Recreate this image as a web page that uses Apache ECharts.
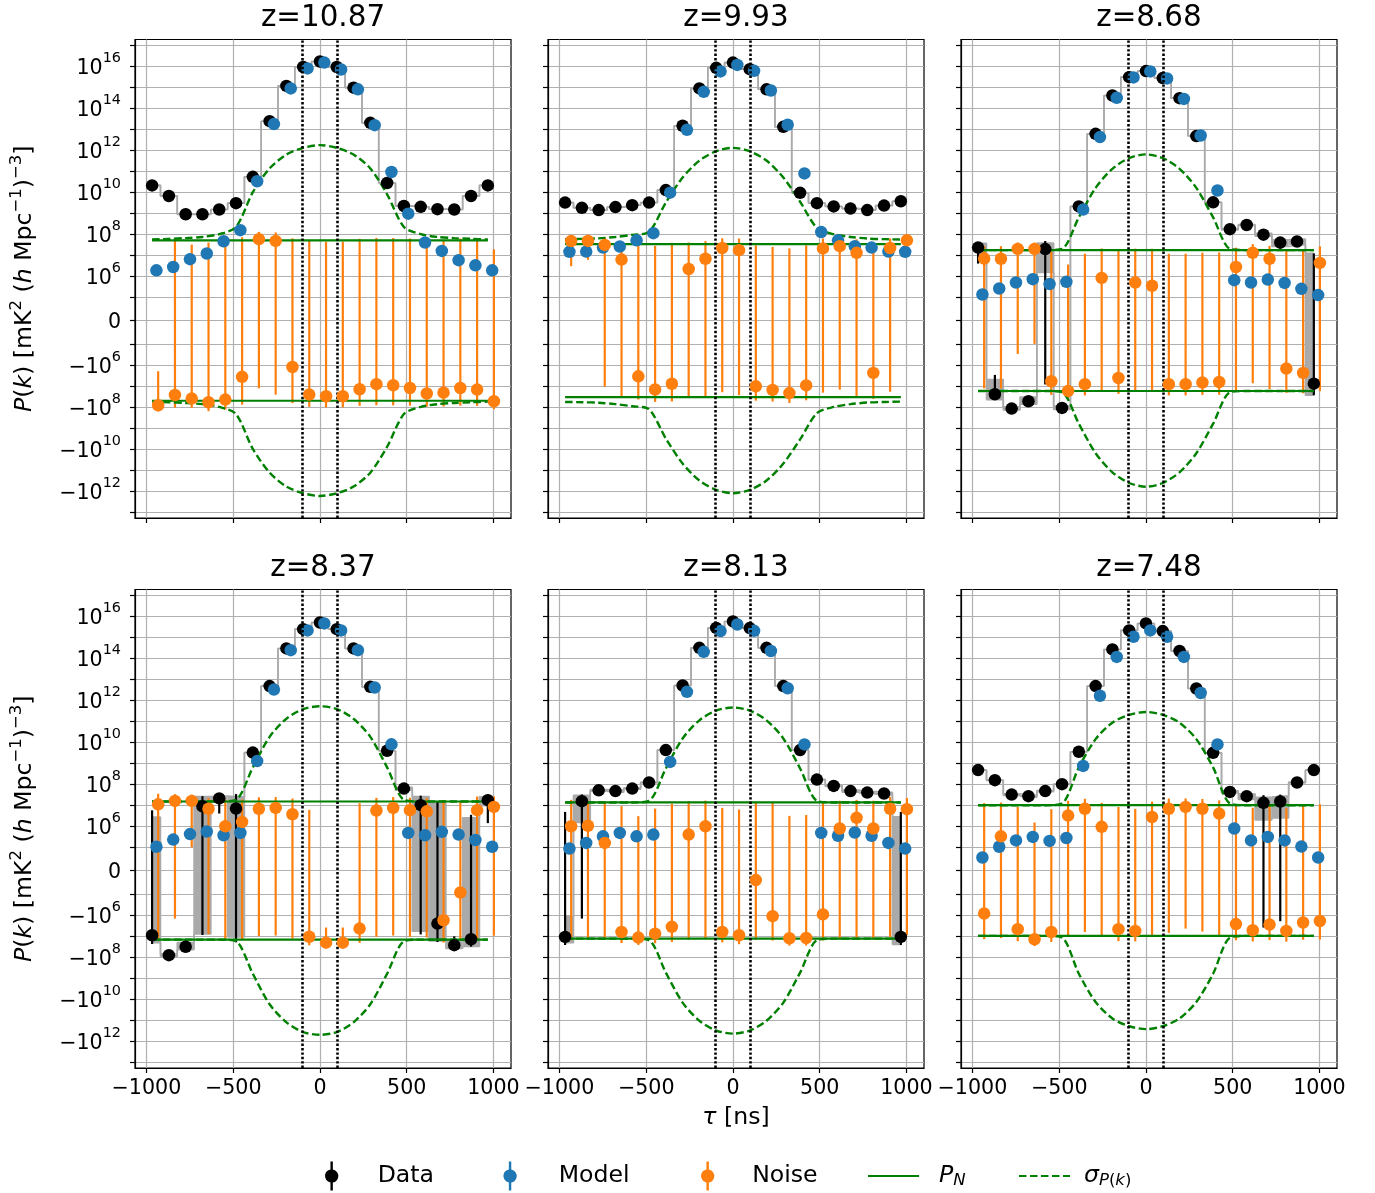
<!DOCTYPE html>
<html><head><meta charset="utf-8">
<script src="https://cdn.jsdelivr.net/npm/echarts@6/dist/echarts.min.js"></script>
<style>html,body{margin:0;padding:0;background:#fff}#c{width:1375px;height:1193px}</style>
</head><body><div id="c"></div>
<script>
// ---------- data ----------
const tau = [-967.5, -870.75, -774, -677.25, -580.5, -483.75, -387, -290.25, -193.5, -96.75, 0,
             96.75, 193.5, 290.25, 387, 483.75, 580.5, 677.25, 774, 870.75, 967.5];
const zLabels = ['z=10.87', 'z=9.93', 'z=8.68', 'z=8.37', 'z=8.13', 'z=7.48'];
const horizonLines = [-100, 100];
const pN = [5.1e7, 3.4e7, 1.75e7, 1.5e7, 1.35e7, 1.0e7];
const xTickVals = [-1000, -500, 0, 500, 1000];
const yLabelExpPos = [6, 8, 10, 12, 14, 16];
const yLabelExpNeg = [6, 8, 10, 12];

// z = 10.87
const data1087 = [2.1e10, 6.6e9, 8.9e8, 8.9e8, 1.5e9, 3.0e9, 5.4e10, 2.4e13, 1.15e15, 9.1e15, 1.66e16, 9.1e15, 9.5e14, 2.0e13, 2.75e10, 2.2e9, 2.0e9, 1.55e9, 1.5e9, 6.6e9, 2.1e10];
const model1087 = [1.9e6, 2.75e6, 6.5e6, 1.2e7, 4.6e7, 1.55e8, 3.3e10, 1.74e13, 8.7e14, 7.8e15, 1.48e16, 6.9e15, 7.9e14, 1.55e13, 9.1e10, 9.5e8, 4.0e7, 1.6e7, 5.8e6, 3.3e6, 1.9e6];
const noise1087 = [-8.3e7, -2.7e7, -4.0e7, -6.0e7, -4.5e7, -3.7e6, 5.8e7, 4.8e7, -1.26e6, -2.6e7, -3.1e7, -3.1e7, -1.45e7, -8.3e6, -9.3e6, -1.26e7, -2.3e7, -2.1e7, -1.26e7, -1.5e7, -5.4e7];
const noiseErr1087 = [8.1e7, 8.3e7, 7.2e7, 1.0e8, 9.0e7, 7.5e7, 7.1e7, 7.4e7, 6.5e7, 7.4e7, 7.5e7, 7.5e7, 7.5e7, 7.5e7, 7.5e7, 7.5e7, 7.5e7, 7.5e7, 7.5e7, 7.5e7, 7.3e7];
const dataErr1087 = [2e7, 2e7, 2e7, 2e7, 2e7, 2e7, 2e7, 2e7, 2e7, 2e7, 2e7, 2e7, 2e7, 2e7, 2e7, 2e7, 2e7, 2e7, 2e7, 2e7, 2e7];
const bandErr1087 = [1e7, 1e7, 1e7, 1e7, 1e7, 1e7, 1e7, 1e7, 1e7, 1e7, 1e7, 1e7, 1e7, 1e7, 1e7, 1e7, 1e7, 1e7, 1e7, 1e7, 1e7];
const sigma1087 = [5.6e7, 6.0e7, 6.5e7, 7.4e7, 1.0e8, 2.2e8, 1.0e10, 1.35e11, 6.2e11, 1.29e12, 1.74e12, 1.29e12, 6.2e11, 1.35e11, 7.9e9, 2.2e8, 1.0e8, 7.4e7, 6.5e7, 6.0e7, 5.6e7];

// z = 9.93
const data993 = [3.2e9, 1.8e9, 1.4e9, 1.95e9, 2.4e9, 3.2e9, 1.26e10, 1.45e13, 8.7e14, 8.3e15, 1.48e16, 7.2e15, 7.9e14, 1.29e13, 9.3e9, 3.0e9, 2.1e9, 1.66e9, 1.4e9, 2.3e9, 3.7e9];
const model993 = [1.45e7, 1.48e7, 2.3e7, 2.6e7, 5.1e7, 1.12e8, 9.5e9, 9.3e12, 6.0e14, 5.6e15, 1.15e16, 6.0e15, 6.9e14, 1.62e13, 7.8e10, 1.26e8, 5.1e7, 2.7e7, 2.3e7, 1.48e7, 1.45e7];
const noise993 = [4.7e7, 4.8e7, 3.1e7, 6.2e6, -3.5e6, -1.48e7, -7.9e6, 2.2e6, 6.8e6, 2.2e7, 1.74e7, -1.05e7, -1.55e7, -2.2e7, -9.5e6, 2.1e7, 2.7e7, 1.3e7, -2.4e6, 2.2e7, 5.1e7];
const noiseErr993 = [4.4e7, 4.2e7, 4.2e7, 3.7e7, 4.1e7, 4.3e7, 4.7e7, 3.8e7, 4.0e7, 4.2e7, 4.5e7, 4.0e7, 4.0e7, 4.3e7, 3.9e7, 4.2e7, 4.2e7, 4.4e7, 3.9e7, 4.1e7, 4.2e7];
const dataErr993 = [2e7, 2e7, 2e7, 2e7, 2e7, 2e7, 2e7, 2e7, 2e7, 2e7, 2e7, 2e7, 2e7, 2e7, 2e7, 2e7, 2e7, 2e7, 2e7, 2e7, 2e7];
const bandErr993 = [1e7, 1e7, 1e7, 1e7, 1e7, 1e7, 1e7, 1e7, 1e7, 1e7, 1e7, 1e7, 1e7, 1e7, 1e7, 1e7, 1e7, 1e7, 1e7, 1e7, 1e7];
const sigma993 = [5.8e7, 6.0e7, 6.3e7, 7.4e7, 9.3e7, 1.29e8, 3.2e9, 5.0e10, 3.2e11, 8.9e11, 1.29e12, 8.9e11, 3.2e11, 5.0e10, 3.5e9, 2.0e8, 1.0e8, 7.4e7, 6.2e7, 5.8e7, 5.6e7];

// z = 8.68
const data868 = [2.3e7, -2.5e7, -1.2e8, -5.4e7, 1.95e7, -1.12e8, 2.1e9, 6.0e12, 4.0e14, 3.0e15, 5.8e15, 2.7e15, 3.0e14, 4.7e12, 3.3e9, 1.74e8, 2.75e8, 9.5e7, 4.0e7, 4.5e7, -7.8e6];
const model868 = [1.35e5, 2.6e5, 5.0e5, 7.2e5, 4.2e5, 5.4e5, 1.48e9, 4.2e12, 3.1e14, 2.9e15, 5.6e15, 2.6e15, 2.75e14, 5.0e12, 1.2e10, 6.5e5, 5.0e5, 6.9e5, 4.8e5, 2.5e5, 1.26e5];
const noise868 = [6.9e6, 6.8e6, 2.0e7, 2.0e7, -6.0e6, -1.74e7, -8.3e6, 8.3e5, -4.2e6, 5.0e5, 3.5e5, -8.3e6, -8.3e6, -6.9e6, -6.5e6, 2.75e6, 1.3e7, 6.8e6, -1.5e6, -2.4e6, 4.3e6];
const noiseErr868 = [2.0e7, 2.0e7, 2.03e7, 2.01e7, 2.1e7, 2.1e7, 2.0e7, 2.0e7, 2.0e7, 2.0e7, 2.0e7, 2.0e7, 2.0e7, 2.0e7, 2.0e7, 2.0e7, 2.05e7, 2.1e7, 2.0e7, 2.0e7, 2.2e7];
const dataErr868 = [1.9e7, 2.2e7, 2e7, 2e7, 2.8e7, 2e7, 2e7, 2e7, 2e7, 2e7, 2e7, 2e7, 2e7, 2e7, 2e7, 2e7, 2e7, 2e7, 2e7, 2e7, 2e7];
const bandErr868 = [1.4e7, 2.0e7, 2.0e7, 2.0e7, 1.8e7, 2.0e7, 1e7, 1e7, 1e7, 1e7, 1e7, 1e7, 1e7, 1e7, 1e7, 1.4e7, 1.4e7, 1.4e7, 1.4e7, 1.4e7, 2.0e7];
const sigma868 = [1.75e7, 1.75e7, 1.75e7, 1.75e7, 1.75e7, 2.0e7, 6.3e8, 1.6e10, 1.3e11, 4.2e11, 6.3e11, 4.2e11, 1.3e11, 1.6e10, 6.3e8, 2.0e7, 1.75e7, 1.75e7, 1.75e7, 1.75e7, 1.75e7];

// z = 8.37
const data837 = [-9.3e6, -8.3e7, -3.3e7, 8.9e6, 2.1e7, 6.9e6, 3.2e9, 4.7e12, 2.9e14, 2.4e15, 5.0e15, 2.4e15, 2.9e14, 4.3e12, 3.9e9, 6.2e7, 1.0e7, -2.6e6, -2.75e7, -1.45e7, 1.74e7];
const model837 = [1.05e5, 2.3e5, 4.2e5, 5.6e5, 3.7e5, 4.8e5, 1.26e9, 3.2e12, 2.4e14, 2.1e15, 4.5e15, 2.1e15, 2.4e14, 4.0e12, 7.9e9, 4.8e5, 3.7e5, 5.4e5, 4.0e5, 2.2e5, 1.05e5];
const noise837 = [1.1e7, 1.6e7, 1.6e7, 6.8e6, 1.0e6, 1.6e6, 6.8e6, 7.4e6, 3.7e6, -1.1e7, -2.1e7, -2.1e7, -4.5e6, 5.6e6, 7.4e6, 5.8e6, 5.1e6, -1.8e6, -9.4e4, 5.8e6, 8.3e6];
const noiseErr837 = [2.4e7, 1.75e7, 1.59e7, 1.5e7, 1.7e7, 1.7e7, 1.7e7, 1.7e7, 1.7e7, 1.7e7, 1.7e7, 1.7e7, 1.7e7, 1.67e7, 1.7e7, 1.7e7, 1.7e7, 1.9e7, 1.5e7, 2.0e7, 1.8e7];
const dataErr837 = [1.5e7, 1.7e7, 1.7e7, 1.8e7, 1.7e7, 2.7e7, 1.7e7, 1.7e7, 1.7e7, 1.7e7, 1.7e7, 1.7e7, 1.7e7, 1.7e7, 1.7e7, 1.7e7, 1.85e7, 1.7e7, 1.7e7, 1.8e7, 1.6e7];
const bandErr837 = [1.2e7, 1.2e7, 1.2e7, 1.7e7, 6e6, 1.8e7, 5e6, 5e6, 5e6, 5e6, 5e6, 5e6, 5e6, 5e6, 5e6, 1.0e7, 1.6e7, 1.5e7, 1.2e7, 1.7e7, 8e6];
const sigma837 = [1.5e7, 1.5e7, 1.5e7, 1.5e7, 1.5e7, 1.8e7, 6.3e8, 1.8e10, 1.3e11, 3.8e11, 5.1e11, 3.8e11, 1.3e11, 1.8e10, 6.3e8, 1.8e7, 1.5e7, 1.5e7, 1.5e7, 1.5e7, 1.5e7];

// z = 8.13
const data813 = [-1.12e7, 1.55e7, 5.1e7, 4.7e7, 6.2e7, 1.2e8, 4.2e9, 5.0e12, 3.1e14, 2.75e15, 5.6e15, 2.7e15, 3.1e14, 4.7e12, 4.2e9, 1.66e8, 8.3e7, 4.7e7, 4.0e7, 3.6e7, -1.12e7];
const model813 = [9.4e4, 1.6e5, 3.3e5, 4.8e5, 3.3e5, 4.0e5, 1.15e9, 2.5e12, 2.0e14, 1.95e15, 4.0e15, 2.0e15, 2.2e14, 3.7e12, 7.8e9, 4.8e5, 3.5e5, 5.0e5, 3.5e5, 1.6e5, 9.4e4];
const noise813 = [1.0e6, 1.05e6, 1.6e5, -6.5e6, -1.2e7, -7.8e6, -3.7e6, 4.0e5, 1.0e6, -6.5e6, -9.3e6, -4.1e4, -1.15e6, -1.29e7, -1.26e7, -9.5e5, 7.8e5, 2.5e6, 7.8e5, 6.8e6, 6.5e6];
const noiseErr813 = [1.7e7, 1.55e7, 1.55e7, 1.55e7, 1.5e7, 1.47e7, 1.55e7, 1.55e7, 1.55e7, 1.4e7, 1.55e7, 1.5e7, 1.55e7, 1.6e7, 1.6e7, 1.55e7, 1.55e7, 1.55e7, 1.55e7, 1.8e7, 1.55e7];
const dataErr813 = [1.6e7, 1.7e7, 8e6, 8e6, 8e6, 8e6, 8e6, 8e6, 8e6, 8e6, 8e6, 8e6, 8e6, 8e6, 8e6, 8e6, 8e6, 8e6, 8e6, 8e6, 1.6e7];
const bandErr813 = [1.0e7, 1.4e7, 5e6, 5e6, 5e6, 5e6, 5e6, 5e6, 5e6, 5e6, 5e6, 5e6, 5e6, 5e6, 5e6, 5e6, 5e6, 5e6, 5e6, 5e6, 1.4e7];
const sigma813 = [1.35e7, 1.35e7, 1.35e7, 1.35e7, 1.35e7, 1.6e7, 5.6e8, 1.5e10, 1.1e11, 3.2e11, 4.5e11, 3.2e11, 1.1e11, 1.5e10, 5.6e8, 1.6e7, 1.35e7, 1.35e7, 1.35e7, 1.35e7, 1.35e7];

// z = 7.48
const data748 = [4.7e8, 1.55e8, 3.2e7, 2.7e7, 4.7e7, 1.0e8, 3.5e9, 4.7e12, 2.6e14, 2.1e15, 4.5e15, 1.95e15, 2.2e14, 3.6e12, 3.1e9, 4.3e7, 2.7e7, 1.3e7, 1.5e7, 1.2e8, 4.7e8];
const model748 = [5.6e4, 1.05e5, 2.1e5, 3.1e5, 2.0e5, 2.75e5, 7.4e8, 1.62e12, 1.15e14, 1.05e15, 2.1e15, 1.05e15, 1.15e14, 2.2e12, 7.8e9, 7.8e5, 2.1e5, 3.1e5, 2.1e5, 1.07e5, 5.6e4];
const noise748 = [-8.7e5, 3.3e5, -4.8e6, -1.45e7, -6.5e6, 3.2e6, 6.8e6, 9.3e5, -4.8e6, -5.8e6, 2.75e6, 6.8e6, 8.3e6, 6.8e6, 4.0e6, -2.75e6, -5.4e6, -2.9e6, -5.8e6, -2.3e6, -1.95e6];
const noiseErr748 = [1.35e7, 1.3e7, 1.3e7, 1.6e7, 1.3e7, 1.3e7, 1.33e7, 1.2e7, 1.3e7, 1.25e7, 1.2e7, 1.4e7, 1.28e7, 1.3e7, 1.3e7, 1.35e7, 1.3e7, 1.3e7, 1.3e7, 1.3e7, 1.3e7];
const dataErr748 = [5e6, 5e6, 5e6, 5e6, 5e6, 5e6, 5e6, 5e6, 5e6, 5e6, 5e6, 5e6, 5e6, 5e6, 5e6, 5e6, 5e6, 1.7e7, 1.7e7, 5e6, 5e6];
const bandErr748 = [3e6, 3e6, 3e6, 3e6, 3e6, 3e6, 3e6, 3e6, 3e6, 3e6, 3e6, 3e6, 3e6, 3e6, 3e6, 5e6, 8e6, 1.1e7, 1.25e7, 5e6, 3e6];
const sigma748 = [1.0e7, 1.0e7, 1.0e7, 1.0e7, 1.0e7, 1.2e7, 6.3e8, 1.4e10, 8.5e10, 2.0e11, 2.75e11, 2.0e11, 8.5e10, 1.4e10, 6.3e8, 1.2e7, 1.0e7, 1.0e7, 1.0e7, 1.0e7, 1.0e7];

// ---------- helpers ----------
const panels = [
  {data: data1087, model: model1087, noise: noise1087, noiseErr: noiseErr1087, dataErr: dataErr1087, bandErr: bandErr1087, sigma: sigma1087},
  {data: data993, model: model993, noise: noise993, noiseErr: noiseErr993, dataErr: dataErr993, bandErr: bandErr993, sigma: sigma993},
  {data: data868, model: model868, noise: noise868, noiseErr: noiseErr868, dataErr: dataErr868, bandErr: bandErr868, sigma: sigma868},
  {data: data837, model: model837, noise: noise837, noiseErr: noiseErr837, dataErr: dataErr837, bandErr: bandErr837, sigma: sigma837},
  {data: data813, model: model813, noise: noise813, noiseErr: noiseErr813, dataErr: dataErr813, bandErr: bandErr813, sigma: sigma813},
  {data: data748, model: model748, noise: noise748, noiseErr: noiseErr748, dataErr: dataErr748, bandErr: bandErr748, sigma: sigma748}
];

const F = 'DejaVu Sans';
const LINTHRESH = 1e5, LINSCALE = 1 / (1 - 1 / 10);
function sym(v) {
  const a = Math.abs(v);
  if (a <= LINTHRESH) return v / LINTHRESH * LINSCALE;
  return Math.sign(v) * (LINSCALE + Math.log10(a / LINTHRESH));
}
const Y_MIN = -9.40, Y_MAX = 13.38;
const X_MIN = -1066, X_MAX = 1101;
const MODEL_SHIFT = 25, NOISE_SHIFT = 35;
const MS = 12.5;

const yTickVals = [0];
for (let e = 5; e <= 17; e++) yTickVals.push(sym(Math.pow(10, e)));
for (let e = 5; e <= 13; e++) yTickVals.push(sym(-Math.pow(10, e)));
const yTicks = yTickVals.filter(v => v >= Y_MIN && v <= Y_MAX);
const yLabels = [0].concat(yLabelExpPos.map(e => sym(Math.pow(10, e))), yLabelExpNeg.map(e => sym(-Math.pow(10, e))));
function yFmt(v) {
  if (Math.abs(v) < 1e-6) return '{b|0}';
  const e = Math.round(Math.abs(v) - LINSCALE + 5);
  return '{b|' + (v < 0 ? '\u2212' : '') + '10}{s|' + e + '}';
}
function xFmt(v) { return v < 0 ? '\u2212' + (-v) : String(v); }

const gridLeft = [135, 548, 961], gridTop = [39.5, 589.5], gridW = 376, gridH = 478.5;

const grids = [], xAxes = [], yAxes = [], series = [], graphics = [];

function errRender(color) {
  return function (params, api) {
    const x = api.value(0);
    const p1 = api.coord([x, api.value(1)]);
    const p2 = api.coord([x, api.value(2)]);
    return {type: 'line', shape: {x1: p1[0], y1: p1[1], x2: p2[0], y2: p2[1]},
            style: {stroke: color, lineWidth: 2.2}};
  };
}
function bandRender(params, api) {
  const a = api.coord([api.value(0), api.value(3)]);
  const b = api.coord([api.value(1), api.value(2)]);
  return {type: 'rect', shape: {x: a[0], y: a[1], width: b[0] - a[0], height: b[1] - a[1]},
          style: {fill: '#aaaaaa'}};
}

const ebIcon = 'path://M5,0L7,0L7,6.59A5.5,5.5,0,0,1,7,17.41L7,24L5,24L5,17.41A5.5,5.5,0,0,1,5,6.59Z';
const GREEN = '#008000';

panels.forEach((P, i) => {
  const row = Math.floor(i / 3), col = i % 3;
  grids.push({left: gridLeft[col], top: gridTop[row], width: gridW, height: gridH,
              show: true, borderColor: '#000', borderWidth: 1.2, backgroundColor: 'transparent'});
  xAxes.push({
    gridIndex: i, type: 'value', min: X_MIN, max: X_MAX,
    axisLine: {show: true, onZero: false, lineStyle: {color: '#000', width: 1.2}},
    axisTick: {show: true, customValues: xTickVals, length: 5, lineStyle: {color: '#000', width: 1.2}},
    axisLabel: {show: row === 1, customValues: xTickVals, formatter: xFmt, fontSize: 20.6, fontFamily: F, color: '#000', margin: 10},
    splitLine: {show: true, lineStyle: {color: '#b0b0b0', width: 1.2}},
    name: i === 4 ? '{i|\u03c4} [ns]' : '', nameLocation: 'middle', nameGap: 38,
    nameTextStyle: {fontSize: 23.6, fontFamily: F, color: '#000', rich: {i: {fontStyle: 'italic', fontSize: 23.6, fontFamily: F}}}
  });
  yAxes.push({
    gridIndex: i, type: 'value', min: Y_MIN, max: Y_MAX,
    axisLine: {show: true, onZero: false, lineStyle: {color: '#000', width: 1.2}},
    axisTick: {show: true, customValues: yTicks, length: 5, lineStyle: {color: '#000', width: 1.2}},
    axisLabel: {show: col === 0, customValues: yLabels, formatter: yFmt, fontFamily: F, color: '#000', margin: 14,
      rich: {b: {fontSize: 20.6, fontFamily: F, lineHeight: 26, padding: [5, 0, 0, 0]},
             s: {fontSize: 14.4, fontFamily: F, lineHeight: 26, padding: [0, 0, 16, 0]}}},
    splitLine: {show: true, lineStyle: {color: '#b0b0b0', width: 1.2}},
    name: col === 0 ? '{i|P}({i|k}) [mK{s|2} ({i|h} Mpc{s|\u22121}){s|\u22123}]' : '',
    nameLocation: 'middle', nameRotate: 90, nameGap: 94,
    nameTextStyle: {fontSize: 23.6, fontFamily: F, color: '#000', lineHeight: 32,
      rich: {i: {fontStyle: 'italic', fontSize: 23.6, fontFamily: F, lineHeight: 32},
             s: {fontSize: 16.5, fontFamily: F, lineHeight: 32, padding: [0, 0, 16, 0]}}}
  });

  const common = {xAxisIndex: i, yAxisIndex: i, animation: false, silent: true};
  // gray band (step-mid fill of data +/- error)
  series.push(Object.assign({type: 'custom', name: 'band', z: 1, renderItem: bandRender, encode: {x: [0, 1], y: [2, 3]},
    data: tau.map((t, k) => [k === 0 ? t : (tau[k - 1] + t) / 2, k === tau.length - 1 ? t : (t + tau[k + 1]) / 2,
                             sym(P.data[k] - P.bandErr[k]), sym(P.data[k] + P.bandErr[k])])}, common));
  series.push(Object.assign({type: 'line', name: 'bandHi', z: 1, step: 'middle', symbol: 'none',
    lineStyle: {color: '#aaaaaa', width: 1.6}, data: tau.map((t, k) => [t, sym(P.data[k] + P.bandErr[k])]),
    markLine: {silent: true, symbol: ['none', 'none'], label: {show: false}, animation: false,
      lineStyle: {color: '#000', type: [2.4, 2.0], width: 2.6, cap: 'butt'}, data: horizonLines.map(v => ({xAxis: v}))}}, common));
  series.push(Object.assign({type: 'line', name: 'bandLo', z: 1, step: 'middle', symbol: 'none',
    lineStyle: {color: '#aaaaaa', width: 1.6}, data: tau.map((t, k) => [t, sym(P.data[k] - P.bandErr[k])])}, common));
  // noise level P_N
  [1, -1].forEach(sg => {
    series.push(Object.assign({type: 'line', name: 'PN', z: 2, symbol: 'none', lineStyle: {color: GREEN, width: 2.2},
      itemStyle: {color: GREEN}, data: [[tau[0], sym(sg * pN[i])], [tau[tau.length - 1], sym(sg * pN[i])]]}, common));
  });
  // sigma_P(k)
  [1, -1].forEach(sg => {
    series.push(Object.assign({type: 'line', name: 'sigma', z: 2, symbol: 'none', smooth: 0.28,
      lineStyle: {color: GREEN, width: 2.4, type: [7.5, 3.5]}, itemStyle: {color: GREEN},
      data: tau.map((t, k) => [t, sym(sg * P.sigma[k])])}, common));
  });
  // error bars
  series.push(Object.assign({type: 'custom', name: 'dataErr', z: 2, renderItem: errRender('#000'), encode: {x: 0, y: [1, 2]},
    data: tau.map((t, k) => [t, sym(P.data[k] - P.dataErr[k]), sym(P.data[k] + P.dataErr[k])])}, common));
  series.push(Object.assign({type: 'custom', name: 'noiseErr', z: 2, renderItem: errRender('#ff7f0e'), encode: {x: 0, y: [1, 2]},
    data: tau.map((t, k) => [t + NOISE_SHIFT, sym(P.noise[k] - P.noiseErr[k]), sym(P.noise[k] + P.noiseErr[k])])}, common));
  // markers
  series.push(Object.assign({type: 'scatter', name: 'Data', z: 3, symbolSize: MS, itemStyle: {color: '#000', opacity: 1},
    data: tau.map((t, k) => [t, sym(P.data[k])])}, common));
  series.push(Object.assign({type: 'scatter', name: 'Model', z: 4, symbolSize: MS, itemStyle: {color: '#1f77b4', opacity: 1},
    data: tau.map((t, k) => [t + MODEL_SHIFT, sym(P.model[k])])}, common));
  series.push(Object.assign({type: 'scatter', name: 'Noise', z: 5, symbolSize: MS, itemStyle: {color: '#ff7f0e', opacity: 1},
    data: tau.map((t, k) => [t + NOISE_SHIFT, sym(P.noise[k])])}, common));

  graphics.push({type: 'text', x: gridLeft[col] + gridW / 2, y: gridTop[row] - 35.5, silent: true,
    style: {text: zLabels[i], font: '29.4px "DejaVu Sans"', fill: '#000', align: 'center', verticalAlign: 'top',
            textAlign: 'center', textVerticalAlign: 'top'}});
});

// ---------- legend: one component per entry, placed like the reference ----------
const legendRich = {
  i: {fontStyle: 'italic', fontSize: 23.6, fontFamily: F, lineHeight: 30},
  sub: {fontSize: 16.5, fontFamily: F, lineHeight: 30, padding: [10, 0, 0, 0]},
  subi: {fontSize: 16.5, fontStyle: 'italic', fontFamily: F, lineHeight: 30, padding: [10, 0, 0, 0]}
};
const legendNames = {Data: 'Data', Model: 'Model', Noise: 'Noise', PN: '{i|P}{subi|N}', sigma: '{i|\u03c3}{subi|P}{sub|(}{subi|k}{sub|)}'};
const legendSpec = [
  {name: 'Data', left: 320, pad: 16, icon: ebIcon},
  {name: 'Model', left: 498.4, pad: 18.6, icon: ebIcon},
  {name: 'Noise', left: 696, pad: 14.5, icon: ebIcon},
  {name: 'PN', left: 862, pad: 15},
  {name: 'sigma', left: 1013, pad: 9}
];
const legends = legendSpec.map(L => ({
  left: L.left, top: 1156, orient: 'horizontal', itemWidth: L.icon ? 50 : 51, itemHeight: L.icon ? 29 : 25,
  selectedMode: false, symbolKeepAspect: true,
  data: [L.icon ? {name: L.name, icon: L.icon} : {name: L.name, itemStyle: {opacity: 0, borderWidth: 0}}],
  formatter: n => legendNames[n],
  textStyle: {fontSize: 23.6, fontFamily: F, color: '#000', lineHeight: 30, padding: [0, 0, 0, L.pad], rich: legendRich}
}));

const chart = echarts.init(document.getElementById('c'), null, {renderer: 'canvas'});
chart.setOption({
  animation: false,
  backgroundColor: '#fff',
  grid: grids, xAxis: xAxes, yAxis: yAxes, series: series, graphic: graphics,
  legend: legends
});
</script>
</body></html>
